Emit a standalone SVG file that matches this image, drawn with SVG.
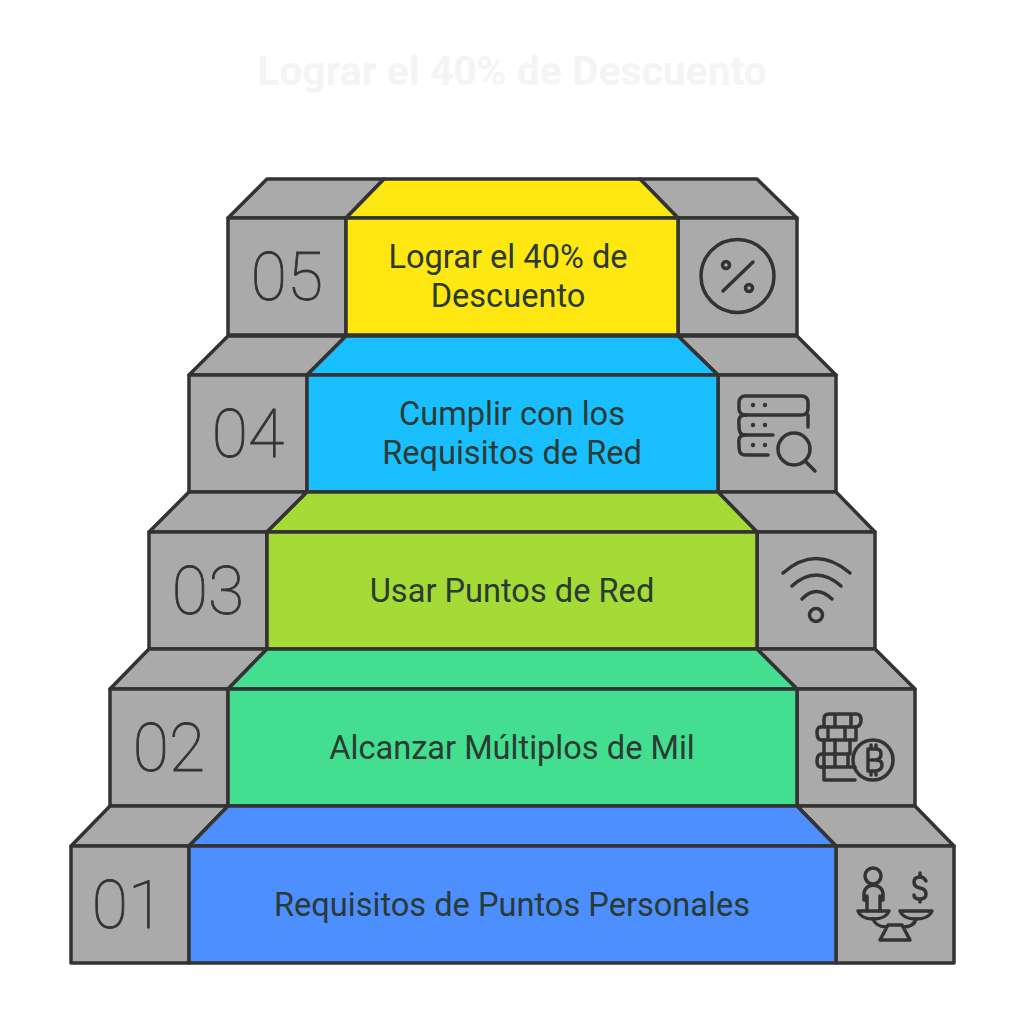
<svg xmlns="http://www.w3.org/2000/svg" width="1024" height="1024" viewBox="0 0 1024 1024">
<style>
.g{fill:#aaaaaa;stroke:#333333;stroke-width:3.5;stroke-linejoin:round}
.c{stroke:#333333;stroke-width:3.5;stroke-linejoin:round}
.t{font-family:Roboto,"Liberation Sans",sans-serif;font-size:32.600px;fill:#2b3a33;text-anchor:middle}
.n{font-family:Roboto,"Liberation Sans",sans-serif;font-weight:250;font-size:66px;fill:#333333;stroke:#333333;stroke-width:.8px;text-anchor:middle}
.i{fill:none;stroke:#333333;stroke-width:3.5;stroke-linecap:round;stroke-linejoin:round}
.d{fill:#333333}
</style>
<rect width="1024" height="1024" fill="#ffffff"/>
<text id="title" x="512" y="85" font-family="Roboto,'Liberation Sans',sans-serif" font-weight="700" font-size="40.800" fill="#f4f4f4" text-anchor="middle">Lograr el 40% de Descuento</text>
<g id="step-05">
<path class="g" d="M228 218L267 179H384L346 218ZM678 218L640 179H757L797 218Z"/>
<path class="c" fill="#ffe711" d="M346 218L384 179H640L678 218Z"/>
<rect class="g" x="228" y="218" width="118" height="117"/>
<rect class="g" x="678" y="218" width="119" height="117"/>
<rect class="c" fill="#ffe711" x="346" y="218" width="332" height="117"/>
<text class="n" x="287" y="300">05</text>
<text class="t" x="508" y="268">Lograr el 40% de</text>
<text class="t" x="508" y="307">Descuento</text>
<g class="i"><circle cx="737.500" cy="276" r="36.500"/><path d="M723 291L753 262"/><circle cx="726" cy="265" r="3.500"/><circle cx="749" cy="288" r="3.500"/></g>
</g>
<g id="step-04">
<path class="g" d="M189 375L228 336H346L307 375ZM718 375L678 336H797L836 375Z"/>
<path class="c" fill="#1abfff" d="M307 375L346 336H678L718 375Z"/>
<rect class="g" x="189" y="375" width="118" height="117"/>
<rect class="g" x="718" y="375" width="118" height="117"/>
<rect class="c" fill="#1abfff" x="307" y="375" width="411" height="117"/>
<text class="n" x="248" y="457">04</text>
<text class="t" x="512" y="425">Cumplir con los</text>
<text class="t" x="512" y="464">Requisitos de Red</text>
<g class="i"><rect x="739" y="396" width="69" height="19" rx="6"/><path d="M746 415C737 415 739 422 739 425C739 432 740 435 746 435H773M808 415V427"/><path d="M746 435C737 435 739 442 739 445C739 452 740 455 746 455H768"/><circle cx="794" cy="449" r="16"/><path d="M805 461L815 471"/></g>
<g class="d"><circle cx="753" cy="405" r="2.200"/><circle cx="765" cy="405" r="2.200"/><circle cx="753" cy="425" r="2.200"/><circle cx="765" cy="425" r="2.200"/><circle cx="753" cy="445" r="2.200"/><circle cx="765" cy="445" r="2.200"/></g>
</g>
<g id="step-03">
<path class="g" d="M149 532L189 492H307L267 532ZM757 532L718 492H836L875 532Z"/>
<path class="c" fill="#a5db36" d="M267 532L307 492H718L757 532Z"/>
<rect class="g" x="149" y="532" width="118" height="117"/>
<rect class="g" x="757" y="532" width="118" height="117"/>
<rect class="c" fill="#a5db36" x="267" y="532" width="490" height="117"/>
<text class="n" x="208" y="614">03</text>
<text class="t" x="512" y="602">Usar Puntos de Red</text>
<g class="i"><path d="M783 573Q816 544 850 573M792 586Q816 564 841 586M802 599Q816 584 832 599"/><circle cx="816" cy="615" r="6.500"/></g>
</g>
<g id="step-02">
<path class="g" d="M110 689L149 649H267L228 689ZM797 689L757 649H875L915 689Z"/>
<path class="c" fill="#44de90" d="M228 689L267 649H757L797 689Z"/>
<rect class="g" x="110" y="689" width="118" height="117"/>
<rect class="g" x="797" y="689" width="118" height="117"/>
<rect class="c" fill="#44de90" x="228" y="689" width="569" height="117"/>
<text class="n" x="169" y="771">02</text>
<text class="t" x="512" y="759">Alcanzar Múltiplos de Mil</text>
<g class="i"><path d="M824 727V719Q824 714 829 714H856Q861 714 861 720T856 727H824M835 714V727M851 714V727"/><path d="M856 727V740H822Q817 740 817 733T822 727M828 727V740M845 727V740"/><path d="M824 740V780H855M824 754H850V740M835 740V754"/><path d="M824 754H822Q817 754 817 761T822 767H848M848 754V767M824 767H855M835 754V767"/><circle cx="873" cy="760" r="20"/><path d="M868 749V771M868 749H876Q881 749 881 754T876 760H868M876 760Q882 760 882 765T876 771H868M871 745V749M876 745V749M871 771V775M876 771V775"/></g>
</g>
<g id="step-01">
<path class="g" d="M71 846L110 806H228L189 846ZM836 846L797 806H915L954 846Z"/>
<path class="c" fill="#4d8fff" d="M189 846L228 806H797L836 846Z"/>
<rect class="g" x="71" y="846" width="118" height="117"/>
<rect class="g" x="836" y="846" width="118" height="117"/>
<rect class="c" fill="#4d8fff" x="189" y="846" width="647" height="117"/>
<text class="n" x="128" y="928">01</text>
<text class="t" x="512" y="916">Requisitos de Puntos Personales</text>
<g class="i"><circle cx="873" cy="876" r="8"/><path d="M867 911V900H864V893Q865 886 873 885Q882 886 883 893V900H880V911M867 900V896M880 900V896"/><path d="M858 911H889Q886 919 873 919Q861 919 858 911ZM900 911H932Q929 919 916 919Q903 919 900 911Z"/><path d="M873 919Q876 927 887 927M916 919Q914 927 903 927M888 925H902L910 940H880Z"/><path d="M926 881Q924 877 920 877Q914 877 914 882Q914 887 920 888Q926 889 926 894Q926 899 920 899Q914 899 914 895M920 873V877M920 899V902"/></g>
</g>
</svg>
